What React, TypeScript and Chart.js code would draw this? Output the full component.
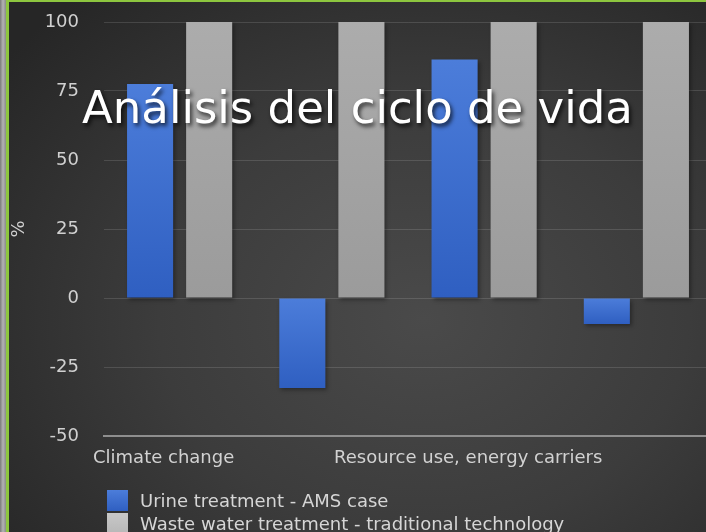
import React, { useEffect, useRef } from "react";
import { Chart, registerables } from "chart.js";

Chart.register(...registerables);

const categories = ["Climate change", "", "Resource use, energy carriers", ""];
const urineValues = [77.5, -32.6, 86.4, -9.4];
const wasteValues = [100, 100, 100, 100];
const seriesNames = ["Urine treatment - AMS case", "Waste water treatment - traditional technology"];
const yTicks = [-50, -25, 0, 25, 50, 75, 100];
const titleText = "Análisis del ciclo de vida";

const FONT = "'DejaVu Sans', sans-serif";

function barGradient(top: string, bottom: string) {
  return (ctx: any) => {
    const chart = ctx.chart;
    const parsed = ctx.parsed;
    if (!parsed || !chart.scales || !chart.scales.y) return top;
    const ys = chart.scales.y;
    const a = ys.getPixelForValue(parsed.y);
    const b = ys.getPixelForValue(0);
    const t = Math.min(a, b);
    const bt = Math.max(a, b);
    if (!isFinite(t) || !isFinite(bt) || bt - t < 1) return top;
    const g = chart.ctx.createLinearGradient(0, t, 0, bt);
    g.addColorStop(0, top);
    g.addColorStop(1, bottom);
    return g;
  };
}

const shadowPlugin = {
  id: "barShadow",
  beforeDatasetsDraw(chart: any) {
    const c = chart.ctx;
    c.save();
    c.shadowColor = "rgba(0,0,0,0.35)";
    c.shadowBlur = 4;
    c.shadowOffsetX = 2;
    c.shadowOffsetY = 2;
  },
  afterDatasetsDraw(chart: any) {
    chart.ctx.restore();
  },
};

function zeroPadding(scale: any) {
  scale.paddingTop = 0;
  scale.paddingBottom = 0;
  scale.paddingLeft = 0;
  scale.paddingRight = 0;
}

export default function App() {
  const ref = useRef<HTMLCanvasElement | null>(null);

  useEffect(() => {
    if (!ref.current) return;
    const chart = new Chart(ref.current, {
      type: "bar",
      data: {
        labels: categories,
        datasets: [
          {
            label: seriesNames[0],
            data: urineValues,
            backgroundColor: barGradient("#4c7dda", "#2f5fc1"),
            borderWidth: 0,
            barPercentage: 0.78,
            categoryPercentage: 0.776,
          },
          {
            label: seriesNames[1],
            data: wasteValues,
            backgroundColor: barGradient("#acacac", "#9b9b9b"),
            borderWidth: 0,
            barPercentage: 0.78,
            categoryPercentage: 0.776,
          },
        ],
      },
      options: {
        responsive: false,
        animation: false,
        devicePixelRatio: 1,
        layout: { padding: { top: 22, right: 7.5, bottom: 0, left: 0 } },
        plugins: {
          legend: { display: false },
          tooltip: { enabled: false },
          title: { display: false },
        },
        scales: {
          x: {
            grid: { display: false, drawTicks: false },
            border: { display: true, color: "#8e8e8e", width: 2 },
            ticks: {
              autoSkip: false,
              maxRotation: 0,
              minRotation: 0,
              padding: 12,
              labelOffset: -16,
              color: "#d2d2d2",
              font: { family: FONT, size: 18 },
            },
            afterFit: (scale: any) => {
              scale.height = 96;
              zeroPadding(scale);
            },
          },
          y: {
            min: -50,
            max: 100,
            afterBuildTicks: (scale: any) => {
              scale.ticks = yTicks.map((v) => ({ value: v }));
            },
            grid: { color: "rgba(255,255,255,0.13)", lineWidth: 1, drawTicks: false },
            border: { display: false },
            ticks: {
              padding: 24.5,
              color: "#d0d0d0",
              font: { family: FONT, size: 18 },
            },
            title: {
              display: true,
              text: "%",
              color: "#d0d0d0",
              font: { family: FONT, size: 18 },
              padding: { top: 9, bottom: 0 },
            },
            afterFit: (scale: any) => {
              scale.width = 103.5;
              zeroPadding(scale);
            },
          },
        },
      },
      plugins: [shadowPlugin],
    } as any);
    return () => chart.destroy();
  }, []);

  const legendColors = [
    "linear-gradient(#4c7dda, #2f5fc1)",
    "linear-gradient(#c8c8c8, #b8b8b8)",
  ];

  return (
    <div
      style={{
        position: "fixed",
        left: 0,
        top: 0,
        width: 706,
        height: 532,
        overflow: "hidden",
        background:
          "radial-gradient(ellipse 75% 80% at 60% 60%, #4a4a4a 0%, #3c3c3c 50%, #262626 100%)",
        fontFamily: FONT,
      }}
    >
      <canvas
        ref={ref}
        width={720}
        height={532}
        style={{ position: "absolute", left: 0, top: 0, width: 720, height: 532 }}
      />
      <div
        style={{
          position: "absolute",
          left: 82,
          top: 84.6,
          fontSize: 45,
          lineHeight: 1,
          color: "#ffffff",
          whiteSpace: "nowrap",
          textShadow: "2px 3px 4px rgba(0,0,0,0.75)",
          fontFamily: FONT,
        }}
      >
        {titleText}
      </div>
      <div style={{ position: "absolute", left: 107, top: 490 }}>
        {seriesNames.map((name, i) => (
          <div
            key={name}
            style={{ display: "flex", alignItems: "flex-start", height: 22.7 }}
          >
            <div
              style={{
                width: 21,
                height: 20.5,
                background: legendColors[i],
                marginRight: 12,
                flex: "none",
              }}
            />
            <div
              style={{
                fontSize: 18,
                lineHeight: "22.7px",
                color: "#d6d6d6",
                whiteSpace: "nowrap",
              }}
            >
              {name}
            </div>
          </div>
        ))}
      </div>
      <div style={{ position: "absolute", left: 0, top: 0, width: 6, height: 532, background: "linear-gradient(90deg, #7a7a7a, #b4b4b4 50%, #8a8a8a)" }} />
      <div style={{ position: "absolute", left: 6, top: 0, width: 3, height: 532, background: "#8dc63f" }} />
      <div style={{ position: "absolute", left: 6, top: 0, width: 700, height: 2, background: "#8dc63f" }} />
    </div>
  );
}
